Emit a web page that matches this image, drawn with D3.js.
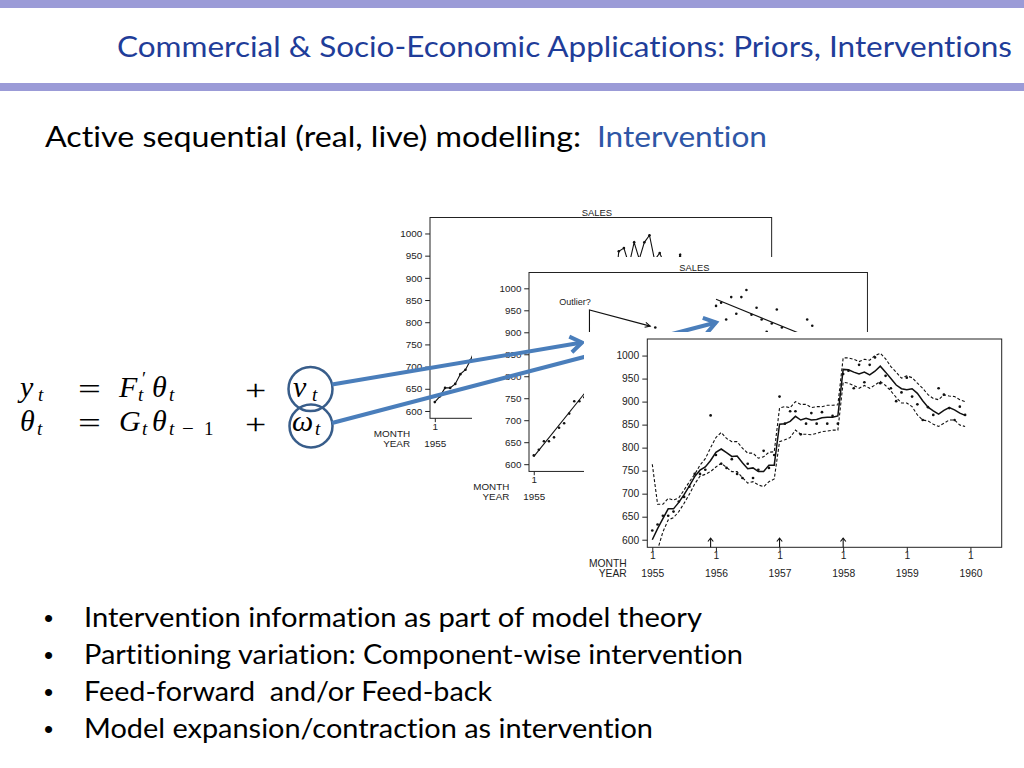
<!DOCTYPE html>
<html><head><meta charset="utf-8">
<script src="https://cdn.jsdelivr.net/npm/d3@7"></script>
<style>html,body{margin:0;padding:0;background:#fff;overflow:hidden} text{font-variant-ligatures:none;font-feature-settings:"liga" 0}</style>
</head><body><svg id="s" width="1024" height="768"></svg>
<script>
// ---------------- data ----------------
const titleText = "Commercial & Socio-Economic Applications: Priors, Interventions";
const subtitleText = "Active sequential (real, live) modelling:";
const subtitleHighlight = "Intervention";
const bullets = [
  "Intervention information as part of model theory",
  "Partitioning variation: Component-wise intervention",
  "Feed-forward  and/or Feed-back",
  "Model expansion/contraction as intervention"
];
const chartTitle = "SALES";
const axisNames = ["MONTH", "YEAR"];
const outlierLabel = "Outlier?";
const yTicks = [600, 650, 700, 750, 800, 850, 900, 950, 1000];
const monthTicks = [0, 12, 24, 36, 48, 60];
const monthLabels = ["1", "1", "1", "1", "1", "1"];
const yearLabels = ["1955", "1956", "1957", "1958", "1959", "1960"];
const xDomain = [-0.94, 65.9];
const yDomain = [583.5, 1036];

// monthly sales, Jan 1955 - Dec 1959
const sales = [620,633,652,652,661,683,693,715,743,743,752,870,
               784,765,756,775,743,734,765,734,752,793,756,784,
               911,852,879,879,829,852,875,852,877,852,869,852,
               960,967,929,980,942,980,996,940,956,929,901,920,
               952,911,894,860,888,871,929,915,886,860,889,871];
// model level (solid) and limits (dashed)
const level = [600,624,646,667,667,681,698,717,737,751,758,772,
               790,797,789,781,782,767,754,756,748,748,762,762,
               851,852,857,868,860,864,860,861,865,866,866,869,
               970,969,964,960,964,958,966,977,964,950,936,928,
               926,928,918,902,888,880,873,881,887,882,875,870];
const upper = [764,677,677,690,686,691,708,726,742,762,776,800,
               822,833,820,813,813,799,788,788,777,780,790,791,
               886,889,887,900,894,894,887,889,889,892,892,893,
               995,995,992,987,992,990,1000,1005,993,976,964,951,
               956,952,940,929,915,907,904,915,912,911,904,900];
const lower = [436,578,617,643,648,661,679,699,721,738,742,748,
               758,766,757,748,748,735,723,726,719,715,726,732,
               813,817,822,838,829,829,828,831,835,836,838,838,
               942,940,935,929,935,929,936,944,935,923,909,897,
               897,889,871,860,858,851,846,853,860,860,849,846];
const interventions = [11, 24, 36];
// straight-line fits shown on the middle chart
const fitStart = [0, 36];
const fitEnd = [11, 59];
const fitFrom = [617, 975];
const fitTo = [775, 867];
const outlierPath = [[11, 880], [11, 951], [23, 914]];

// ---------------- drawing ----------------
const svg = d3.select("#s");
const band = "#9b9bd7";
svg.append("rect").attr("x",0).attr("y",0).attr("width",1024).attr("height",8).attr("fill",band);
svg.append("rect").attr("x",0).attr("y",83).attr("width",1024).attr("height",8).attr("fill",band);

const sans = "Lato, 'Open Sans', sans-serif";
svg.append("text").attr("x",117).attr("y",57).attr("font-family",sans).attr("font-size",29)
  .attr("fill","#1f3d99").attr("textLength",895).attr("lengthAdjust","spacingAndGlyphs").text(titleText);
svg.append("text").attr("x",45).attr("y",147).attr("font-family",sans).attr("font-size",29)
  .attr("fill","#000").attr("textLength",536).attr("lengthAdjust","spacingAndGlyphs").text(subtitleText);
svg.append("text").attr("x",597).attr("y",147).attr("font-family",sans).attr("font-size",29)
  .attr("fill","#2e56a6").attr("textLength",170).attr("lengthAdjust","spacingAndGlyphs").text(subtitleHighlight);

const bulletLen = [618, 659, 408, 569];
bullets.forEach((b, i) => {
  const yy = 627 + i * 37;
  svg.append("text").attr("x",44).attr("y",yy).attr("font-family","Arial, 'Liberation Sans'").attr("font-size",26).text("\u2022");
  svg.append("text").attr("x",84).attr("y",yy).attr("font-family",sans).attr("font-size",26)
    .style("white-space","pre").attr("textLength",bulletLen[i]).attr("lengthAdjust","spacingAndGlyphs").text(b);
});

// equations
const eq = svg.append("g").attr("font-family","'Liberation Serif', 'DejaVu Serif', serif").attr("fill","#000");
function t(s, x, y, size, it, sx) {
  eq.append("text").attr("transform",`translate(${x},${y}) scale(${sx||1},1)`)
    .attr("font-size",size).attr("font-style",it?"italic":"normal").text(s);
}
const B1 = 397, B2 = 431, M = 29, S = 19;
t("y",20,B1,M+1,true); t("t",38,B1+4,S,true);
t("=",78,B1+2,M,false,1.4);
t("F",119,B1,M+1,true); t("\u2032",142,B1-12,S,false); t("t",138,B1+4,S,true);
t("\u03B8",152,B1,M+1,true); t("t",169,B1+4,S,true);
t("+",245,B1+3,M,false,1.3);
t("\u03BD",293,B1,M+1,true); t("t",312,B1+4,S,true);
t("\u03B8",20,B2,M+1,true); t("t",37,B2+4,S,true);
t("=",78,B2+2,M,false,1.4);
t("G",119,B2,M+1,true); t("t",142,B2+4,S,true);
t("\u03B8",152,B2,M+1,true); t("t",169,B2+4,S,true); t("\u2212",182,B2+4,S,false,1.1); t("1",204,B2+4,S,false);
t("+",245,B2+3,M,false,1.3);
t("\u03C9",292,B2,M+1,true); t("t",315,B2+4,S,true);

svg.append("circle").attr("cx",310.5).attr("cy",389).attr("r",22).attr("fill","none").attr("stroke","#385d8a").attr("stroke-width",2.5);
svg.append("circle").attr("cx",311).attr("cy",426).attr("r",21.5).attr("fill","none").attr("stroke","#385d8a").attr("stroke-width",2.5);

// chart builder
const chartFont = "'Liberation Sans', Arial, sans-serif";
function drawChart(cfg) {
  const g = svg.append("g");
  const k = cfg.k, W = 354.4 * k, H = 208.3 * k, L = cfg.left, T = cfg.top, Bt = T + H;
  g.append("rect").attr("x",cfg.img[0]).attr("y",cfg.img[1]).attr("width",cfg.img[2]).attr("height",cfg.img[3]).attr("fill","#fff");
  const x = d3.scaleLinear().domain(xDomain).range([L, L + W]);
  const y = d3.scaleLinear().domain(yDomain).range([Bt, T]);
  const fs = 10.3 * k;
  const ya = g.append("g").attr("transform",`translate(${L},0)`)
    .call(d3.axisLeft(y).tickValues(yTicks).tickFormat(d3.format("d")).tickSize(5*k).tickPadding(3*k));
  const xa = g.append("g").attr("transform",`translate(0,${Bt})`)
    .call(d3.axisBottom(x).tickValues(monthTicks).tickFormat((d,i)=>monthLabels[i]).tickSize(4*k).tickPadding(0.8*k));
  const xy = g.append("g").attr("transform",`translate(0,${Bt})`)
    .call(d3.axisBottom(x).tickValues(monthTicks).tickFormat((d,i)=>yearLabels[i]).tickSize(0).tickPadding(22.4*k));
  [ya, xa, xy].forEach(a => {
    a.select(".domain").remove();
    a.attr("font-size", fs).attr("font-family", chartFont);
    a.selectAll("line").attr("stroke","#222");
    a.selectAll("text").attr("fill","#222");
  });
  xy.selectAll("line").remove();
  g.append("text").attr("x",L-20.6*k).attr("y",Bt+19.7*k).attr("text-anchor","end")
    .attr("font-family",chartFont).attr("font-size",fs).attr("fill","#222").text(axisNames[0]);
  g.append("text").attr("x",L-20.6*k).attr("y",Bt+29.7*k).attr("text-anchor","end")
    .attr("font-family",chartFont).attr("font-size",fs).attr("fill","#222").text(axisNames[1]);
  g.append("rect").attr("x",L).attr("y",T).attr("width",W).attr("height",H)
    .attr("fill","none").attr("stroke","#222").attr("stroke-width",1);
  if (cfg.title) {
    g.append("text").attr("x",L+W/2-4*k).attr("y",T-1.8*k).attr("text-anchor","middle")
      .attr("font-family",chartFont).attr("font-size",fs*0.95).attr("fill","#222").text(chartTitle);
  }
  const cid = "clip" + cfg.id;
  g.append("clipPath").attr("id",cid).append("rect").attr("x",L).attr("y",T).attr("width",W).attr("height",H);
  const p = g.append("g").attr("clip-path",`url(#${cid})`);
  const ln = d3.line().x((d,i)=>x(i)).y(d=>y(d));

  if (cfg.rawLine) {
    p.append("path").datum(sales).attr("d",ln).attr("fill","none").attr("stroke","#111").attr("stroke-width",1.1);
  }
  if (cfg.bands) {
    [upper, lower].forEach(s => p.append("path").datum(s).attr("d",ln).attr("fill","none")
      .attr("stroke","#111").attr("stroke-width",1.1).attr("stroke-dasharray","3,2"));
    p.append("path").datum(level).attr("d",ln).attr("fill","none").attr("stroke","#111").attr("stroke-width",1.5);
  }
  if (cfg.fit) {
    fitStart.forEach((s, j) => p.append("line")
      .attr("x1",x(s)).attr("y1",y(fitFrom[j])).attr("x2",x(fitEnd[j])).attr("y2",y(fitTo[j]))
      .attr("stroke","#111").attr("stroke-width",1.1));
  }
  p.selectAll("circle.pt").data(sales).join("circle").attr("class","pt")
    .attr("cx",(d,i)=>x(i)).attr("cy",d=>y(d)).attr("r",1.35*k).attr("fill","#111");

  if (cfg.outlier) {
    const pts = outlierPath.map(d => [x(d[0]), y(d[1])]);
    g.append("path").attr("d", d3.line()(pts)).attr("fill","none").attr("stroke","#111").attr("stroke-width",1.1);
    const a = pts[pts.length-1], b = pts[pts.length-2];
    const ang = Math.atan2(a[1]-b[1], a[0]-b[0]);
    const hl = 6 * k;
    const head = [-0.45, 0.45].map(o => [a[0] - hl*Math.cos(ang+o), a[1] - hl*Math.sin(ang+o)]);
    g.append("path").attr("d", d3.line()([head[0], a, head[1]])).attr("fill","none").attr("stroke","#111").attr("stroke-width",1.1);
    g.append("text").attr("x",x(outlierPath[1][0])+1.3).attr("y",y(outlierPath[1][1])-5*k).attr("text-anchor","end")
      .attr("font-family",chartFont).attr("font-size",fs*0.92).attr("fill","#222").text(outlierLabel);
  }
  if (cfg.arrows) {
    interventions.forEach(i => {
      const xx = x(i);
      g.append("line").attr("x1",xx).attr("y1",Bt).attr("x2",xx).attr("y2",Bt-9).attr("stroke","#111").attr("stroke-width",1.1);
      g.append("path").attr("d",`M${xx-2.7},${Bt-5.8}L${xx},${Bt-9.2}L${xx+2.7},${Bt-5.8}`)
        .attr("fill","none").attr("stroke","#111").attr("stroke-width",1.1);
    });
  }
  // labels that sit under a later (overlapping) chart image are never visible: drop them
  if (cfg.covers) {
    g.selectAll("text").each(function() {
      const r = this.getBoundingClientRect();
      const cx = r.x + r.width / 2, cy = r.y + r.height / 2;
      if (cfg.covers.some(c => cx > c[0] && cx < c[0] + c[2] && cy > c[1] && cy < c[1] + c[3])) this.remove();
    });
  }
}

const imgA = [372,203,428,252], imgB = [472,257,400,248], imgC = [584,332,428,253];
drawChart({id:"a", left:430, top:217.5, k:0.964, img:imgA, title:true, rawLine:true, covers:[imgB, imgC]});
drawChart({id:"b", left:529, top:272.5, k:0.955, img:imgB, title:true, fit:true, outlier:true, covers:[imgC]});

// blue connector arrows
function blueArrow(x1, y1, x2, y2) {
  svg.append("line").attr("x1",x1).attr("y1",y1).attr("x2",x2).attr("y2",y2)
    .attr("stroke","#4a7ebb").attr("stroke-width",4);
  const ang = Math.atan2(y2-y1, x2-x1), hl = 14;
  const h = [-0.6, 0.6].map(o => [x2 - hl*Math.cos(ang+o), y2 - hl*Math.sin(ang+o)]);
  svg.append("path").attr("d",`M${h[0][0]},${h[0][1]}L${x2},${y2}L${h[1][0]},${h[1][1]}`)
    .attr("fill","none").attr("stroke","#4a7ebb").attr("stroke-width",4).attr("stroke-linejoin","miter");
}
blueArrow(332, 384.5, 582, 342.5);
blueArrow(332, 423, 716, 322.5);

drawChart({id:"c", left:647.3, top:339, k:1, img:imgC, title:false, bands:true, arrows:true});
</script>
</body></html>
